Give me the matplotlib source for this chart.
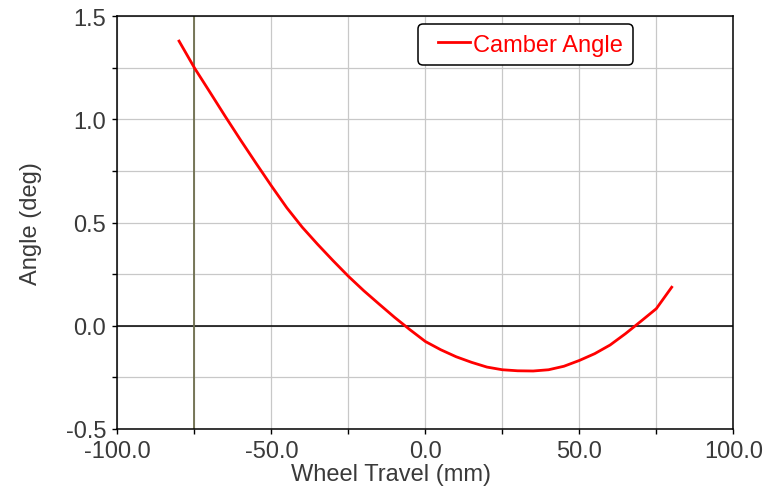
import matplotlib
matplotlib.use("Agg")
import matplotlib.pyplot as plt
from matplotlib.ticker import MultipleLocator, FormatStrFormatter
from matplotlib.legend_handler import HandlerLine2D

# Camber angle vs. wheel travel
wheel_travel = [-80, -75, -70, -65, -60, -55, -50, -45, -40, -35, -30, -25, -20,
                -15, -10, -5, 0, 5, 10, 15, 20, 25, 30, 35, 40, 45, 50, 55, 60,
                65, 70, 75, 80]
camber_angle = [1.38, 1.25, 1.133, 1.015, 0.900, 0.788, 0.678, 0.572, 0.478,
                0.395, 0.316, 0.240, 0.170, 0.105, 0.041, -0.019, -0.076,
                -0.116, -0.150, -0.177, -0.200, -0.213, -0.218, -0.219, -0.213,
                -0.196, -0.168, -0.135, -0.093, -0.038, 0.022, 0.083, 0.187]
series_label = "Camber Angle"
marker_travel = -75.0
x_label = "Wheel Travel (mm)"
y_label = "Angle (deg)"

plt.rcParams["font.family"] = ["Liberation Sans", "DejaVu Sans"]
plt.rcParams["axes.unicode_minus"] = False

text_color = "#3a3a3a"
fs = 17

fig = plt.figure(figsize=(7.79, 4.89), dpi=100)
ax = fig.add_axes([0.1508, 0.1207, 0.7905, 0.8439])

ax.set_xlim(-100, 100)
ax.set_ylim(-0.5, 1.5)

ax.xaxis.set_major_locator(MultipleLocator(50))
ax.xaxis.set_minor_locator(MultipleLocator(25))
ax.yaxis.set_major_locator(MultipleLocator(0.5))
ax.yaxis.set_minor_locator(MultipleLocator(0.25))
ax.xaxis.set_major_formatter(FormatStrFormatter("%.1f"))
ax.yaxis.set_major_formatter(FormatStrFormatter("%.1f"))

ax.grid(True, which="both", color="#c8c8c8", linewidth=0.9, zorder=0)
ax.set_axisbelow(True)

ax.tick_params(axis="both", which="both", direction="out", length=3.6,
               width=1.0, color="black", labelsize=fs, labelcolor=text_color)
ax.tick_params(axis="x", which="major", pad=4.2)
ax.tick_params(axis="y", which="major", pad=4.5)

for sp in ax.spines.values():
    sp.set_color("black")
    sp.set_linewidth(1.1)

ax.axhline(0.0, color="black", linewidth=1.1, zorder=2)
ax.axvline(marker_travel, color="#6e6e4e", linewidth=1.3, zorder=2)

line, = ax.plot(wheel_travel, camber_angle, color="#ff0000", linewidth=2.0,
                label=series_label, zorder=3, solid_joinstyle="round")

ax.set_xlabel(x_label, fontsize=fs, color=text_color)
ax.set_ylabel(y_label, fontsize=fs, color=text_color)
ax.xaxis.set_label_coords(0.4434, -0.0835)
ax.yaxis.set_label_coords(-0.1227, 0.5)

leg = ax.legend(handles=[line], loc="upper left",
                bbox_to_anchor=(0.4887, 0.9806), borderaxespad=0,
                fontsize=fs, frameon=True, fancybox=True, framealpha=1,
                edgecolor="black", borderpad=0.4, handlelength=1.8,
                handletextpad=0.12,
                handler_map={line: HandlerLine2D(xpad=0.42)})
leg.get_frame().set_linewidth(1.1)
for t in leg.get_texts():
    t.set_color("#ff0000")

fig.savefig("out.png", dpi=100, facecolor="white")
